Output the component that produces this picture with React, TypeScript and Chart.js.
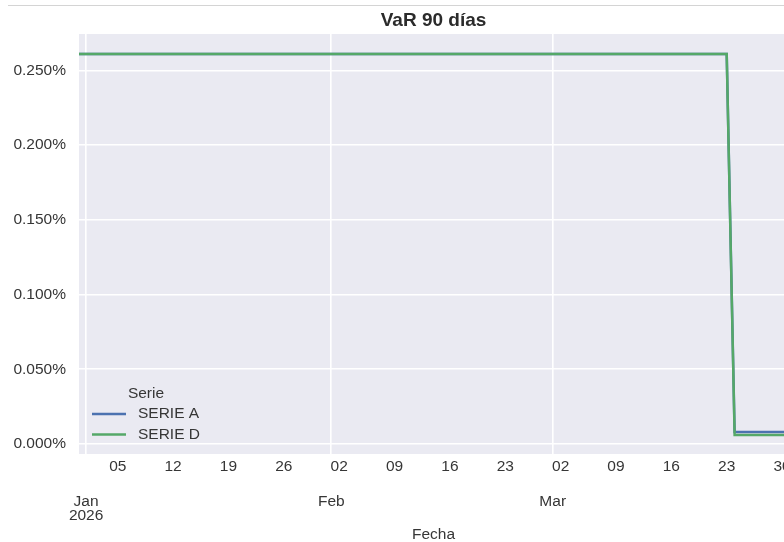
import React, { useEffect, useRef } from 'react';
import { Chart, registerables } from 'chart.js';

Chart.register(...registerables);

// ---- Data ----
const TITLE = 'VaR 90 días';
const X_TITLE = 'Fecha';
const LEGEND_TITLE = 'Serie';
const seriesNames = ['SERIE A', 'SERIE D'];
const seriesColors = ['#4C72B0', '#55A868'];
const dates = ['2025-12-31', '2026-03-23', '2026-03-24', '2026-03-31'];
const serieA = [0.261, 0.261, 0.008, 0.008]; // percent
const serieD = [0.261, 0.261, 0.006, 0.006]; // percent

const weekTickDates = [
  '2026-01-05', '2026-01-12', '2026-01-19', '2026-01-26',
  '2026-02-02', '2026-02-09', '2026-02-16', '2026-02-23',
  '2026-03-02', '2026-03-09', '2026-03-16', '2026-03-23', '2026-03-30',
];
const weekTickLabels = ['05', '12', '19', '26', '02', '09', '16', '23', '02', '09', '16', '23', '30'];
const monthTickDates = ['2026-01-01', '2026-02-01', '2026-03-01'];
const monthTickLabels: (string | string[])[] = [['Jan', '2026'], 'Feb', 'Mar'];
const yTicks = [0, 0.05, 0.1, 0.15, 0.2, 0.25];

// axis limits (days from 2026-01-01, percent)
const X_MIN = -0.9;
const X_MAX = 88.75;
const Y_MIN = -0.0067;
const Y_MAX = 0.2744;

const ORIGIN = Date.UTC(2026, 0, 1);
const dayIndex = (s: string) => (Date.parse(s + 'T00:00:00Z') - ORIGIN) / 86400000;

const FONT = '"Liberation Sans", Arial, Helvetica, sans-serif';
const TEXT = '#2b2b2b';
const TICK = '#363636';
const BG = '#EAEAF2';
const FS = 15.5;

const bgPlugin = {
  id: 'bgPlugin',
  beforeDraw(chart: any) {
    const { ctx, chartArea: a } = chart;
    ctx.save();
    ctx.fillStyle = BG;
    ctx.fillRect(a.left, a.top, a.right - a.left, a.bottom - a.top);
    ctx.restore();
  },
};

const decorPlugin = {
  id: 'decorPlugin',
  afterDraw(chart: any) {
    const { ctx, chartArea: a } = chart;
    ctx.save();
    // title
    ctx.fillStyle = TEXT;
    ctx.font = `bold 19px ${FONT}`;
    ctx.textAlign = 'center';
    ctx.textBaseline = 'middle';
    ctx.fillText(TITLE, (a.left + a.right) / 2, 21);
    // legend
    ctx.font = `${FS}px ${FONT}`;
    ctx.fillStyle = TICK;
    ctx.fillText(LEGEND_TITLE, a.left + 67, a.bottom - 60);
    const rows = [a.bottom - 40, a.bottom - 19.5];
    chart.data.datasets.forEach((ds: any, i: number) => {
      const y = rows[i];
      ctx.strokeStyle = ds.borderColor;
      ctx.lineWidth = 2.5;
      ctx.beginPath();
      ctx.moveTo(a.left + 13, y);
      ctx.lineTo(a.left + 47, y);
      ctx.stroke();
      ctx.textAlign = 'left';
      ctx.fillStyle = TICK;
      ctx.fillText(ds.label, a.left + 59, y);
    });
    ctx.restore();
  },
};

export default function App() {
  const ref = useRef<HTMLCanvasElement>(null);

  useEffect(() => {
    if (!ref.current) return;
    const xs = dates.map(dayIndex);
    const chart = new Chart(ref.current, {
      type: 'line',
      data: {
        datasets: [
          {
            label: seriesNames[0],
            data: xs.map((x, i) => ({ x, y: serieA[i] })),
            borderColor: seriesColors[0],
            backgroundColor: seriesColors[0],
            borderWidth: 2.5,
            pointRadius: 0,
            tension: 0,
            order: 1,
          },
          {
            label: seriesNames[1],
            data: xs.map((x, i) => ({ x, y: serieD[i] })),
            borderColor: seriesColors[1],
            backgroundColor: seriesColors[1],
            borderWidth: 2.5,
            pointRadius: 0,
            tension: 0,
            order: 0,
          },
        ],
      },
      options: {
        animation: false,
        responsive: false,
        devicePixelRatio: 1,
        layout: { padding: { top: 34, right: 13, left: 0, bottom: 0 } },
        plugins: {
          legend: { display: false },
          title: { display: false },
          tooltip: { enabled: false },
        },
        scales: {
          x: {
            type: 'linear',
            position: 'bottom',
            weight: 0,
            min: X_MIN,
            max: X_MAX,
            grid: { display: false, drawTicks: false },
            border: { display: false },
            afterBuildTicks: (scale: any) => {
              scale.ticks = weekTickDates.map((d) => ({ value: dayIndex(d) }));
            },
            afterFit: (scale: any) => {
              scale.height = 24;
            },
            ticks: {
              autoSkip: false,
              maxRotation: 0,
              minRotation: 0,
              padding: 3,
              color: TICK,
              font: { family: FONT, size: FS },
              callback: (_v: any, i: number) => weekTickLabels[i],
            },
          },
          x2: {
            type: 'linear',
            position: 'bottom',
            weight: 1,
            min: X_MIN,
            max: X_MAX,
            grid: { display: true, color: '#FFFFFF', lineWidth: 1.6, drawTicks: false },
            border: { display: false },
            afterBuildTicks: (scale: any) => {
              scale.ticks = monthTickDates.map((d) => ({ value: dayIndex(d) }));
            },
            afterFit: (scale: any) => {
              scale.height = 64;
            },
            ticks: {
              autoSkip: false,
              maxRotation: 0,
              minRotation: 0,
              padding: 17,
              color: TICK,
              font: { family: FONT, size: FS, lineHeight: 0.88 },
              callback: (_v: any, i: number) => monthTickLabels[i],
            },
            title: {
              display: true,
              text: X_TITLE,
              color: TICK,
              font: { family: FONT, size: FS, lineHeight: 0.95 },
              padding: { top: 0, bottom: 0 },
            },
          },
          y: {
            type: 'linear',
            position: 'left',
            min: Y_MIN,
            max: Y_MAX,
            grid: { color: '#FFFFFF', lineWidth: 1.6, drawTicks: false },
            border: { display: false },
            afterBuildTicks: (scale: any) => {
              scale.ticks = yTicks.map((v) => ({ value: v }));
            },
            afterFit: (scale: any) => {
              scale.width = 79;
            },
            ticks: {
              padding: 13,
              color: TICK,
              font: { family: FONT, size: FS },
              callback: (v: any) => Number(v).toFixed(3) + '%',
            },
          },
        },
      } as any,
      plugins: [bgPlugin, decorPlugin],
    });
    return () => chart.destroy();
  }, []);

  return (
    <div style={{ position: 'absolute', left: 0, top: 0, width: 784, height: 542, overflow: 'hidden', background: '#fff' }}>
      <div style={{ position: 'absolute', left: 8, top: 5, width: 776, height: 1, background: '#d4d4d4' }} />
      <canvas ref={ref} width={801} height={542} style={{ display: 'block', width: 801, height: 542 }} />
    </div>
  );
}
